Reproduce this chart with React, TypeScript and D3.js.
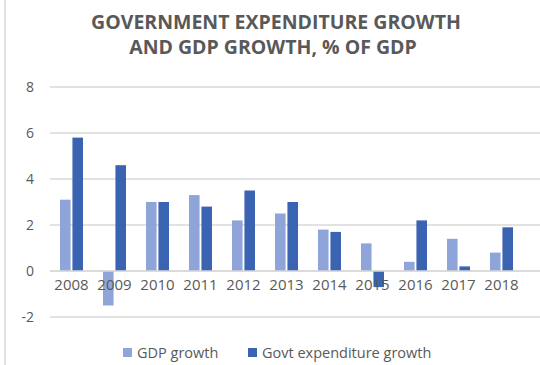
import React from "react";
import * as d3 from "d3";

const years = ["2008","2009","2010","2011","2012","2013","2014","2015","2016","2017","2018"];
const gdpGrowth = [3.1, -1.5, 3.0, 3.3, 2.2, 2.5, 1.8, 1.2, 0.4, 1.4, 0.8];
const govtGrowth = [5.8, 4.6, 3.0, 2.8, 3.5, 3.0, 1.7, -0.7, 2.2, 0.2, 1.9];
const yTicks = [-2, 0, 2, 4, 6, 8];
const seriesNames = ["GDP growth", "Govt expenditure growth"];
const colors = ["#8FA4D8", "#3A63B2"];

export default function App() {
  const W = 540, H = 365;
  const x = d3.scaleBand().domain(years).range([50, 523]).paddingInner(0).paddingOuter(0);
  const y = d3.scaleLinear().domain([-2, 8]).range([317, 87]);
  const inner = d3.scaleBand().domain(["g", "e"]).range([x.bandwidth() / 2 - 11.5, x.bandwidth() / 2 + 11.5]).paddingInner(0.15);
  const font = "'Open Sans', 'Liberation Sans', sans-serif";
  const textColor = "#595959";
  return (
    <svg width={W} height={H} style={{ position: "absolute", left: 0, top: 0, background: "#fff" }} fontFamily={font}>
      <rect x={0} y={0} width={W} height={H} fill="#fff" />
      <line x1={5} x2={5} y1={0} y2={H} stroke="#d9d9d9" strokeWidth={1.5} />
      <text x={276} y={29} textAnchor="middle" fontSize={19.5} fontWeight="bold" fill={textColor}>GOVERNMENT EXPENDITURE GROWTH</text>
      <text x={273} y={54} textAnchor="middle" fontSize={19.5} fontWeight="bold" fill={textColor}>AND GDP GROWTH, % OF GDP</text>
      {yTicks.map((t) => (
        <g key={t}>
          <line x1={50} x2={540} y1={y(t)} y2={y(t)} stroke="#d9d9d9" strokeWidth={1.3} />
          <text x={34} y={y(t) + 5} textAnchor="end" fontSize={14} fill={textColor}>{t}</text>
        </g>
      ))}
      {years.map((yr, i) => {
        const x0 = x(yr)!;
        return (
          <g key={yr}>
            <rect x={x0 + inner("g")!} width={inner.bandwidth()} y={y(Math.max(0, gdpGrowth[i]))} height={Math.abs(y(gdpGrowth[i]) - y(0))} fill={colors[0]} />
            <rect x={x0 + inner("e")!} width={inner.bandwidth()} y={y(Math.max(0, govtGrowth[i]))} height={Math.abs(y(govtGrowth[i]) - y(0))} fill={colors[1]} />
            <text x={x0 + x.bandwidth() / 2} y={290} textAnchor="middle" fontSize={15} fill={textColor}>{yr}</text>
          </g>
        );
      })}
      <line x1={50} x2={540} y1={y(0)} y2={y(0)} stroke="#d9d9d9" strokeWidth={1.3} />
      <rect x={123} y={348} width={9} height={9} fill={colors[0]} />
      <text x={137} y={358} fontSize={14.5} fill={textColor}>{seriesNames[0]}</text>
      <rect x={248} y={348} width={9} height={9} fill={colors[1]} />
      <text x={262} y={358} fontSize={14.5} fill={textColor}>{seriesNames[1]}</text>
    </svg>
  );
}
